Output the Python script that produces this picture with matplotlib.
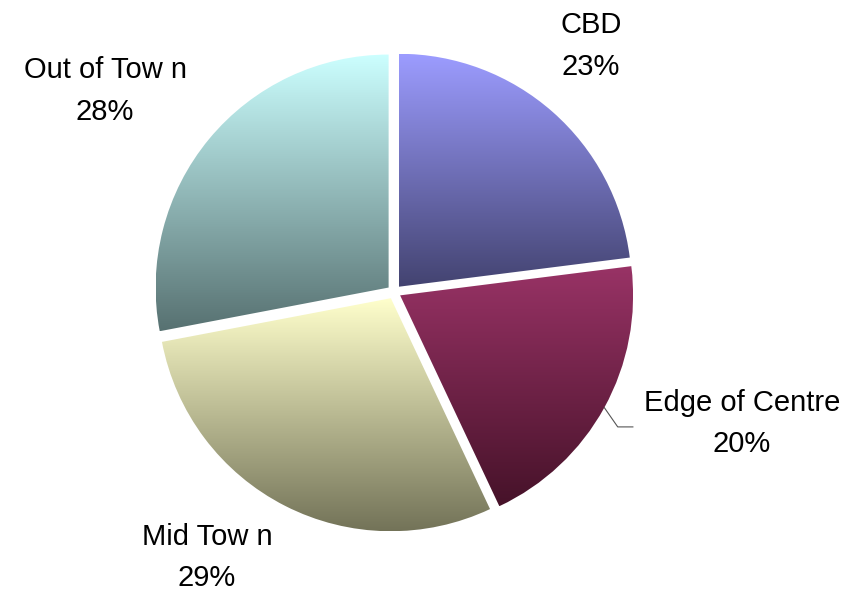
import numpy as np
import matplotlib
matplotlib.use("Agg")
import matplotlib.pyplot as plt
from matplotlib.colors import LinearSegmentedColormap

# data
labels = ["CBD", "Edge of Centre", "Mid Tow n", "Out of Tow n"]
shares = [23, 20, 29, 28]
top_colors = ["#9c9cff", "#993366", "#ffffcc", "#ccffff"]
bottom_colors = ["#434370", "#461229", "#737358", "#577171"]

plt.rcParams['font.family'] = ['Liberation Sans', 'DejaVu Sans']

fig = plt.figure(figsize=(8.54, 5.92), dpi=100)
ax = fig.add_axes([0, 0, 1, 1])

wedges, _ = ax.pie(shares, startangle=90, counterclock=False,
                   explode=[0.03] * len(shares), radius=1.0,
                   wedgeprops=dict(linewidth=0, facecolor="none"))

# vertical gradient inside each wedge
for w, c_top, c_bot in zip(wedges, top_colors, bottom_colors):
    bb = w.get_path().get_extents(w.get_patch_transform())
    cmap = LinearSegmentedColormap.from_list("g", [c_bot, c_top])
    grad = np.linspace(0, 1, 256).reshape(-1, 1)
    im = ax.imshow(grad, cmap=cmap, origin="lower", aspect="auto",
                   extent=[bb.x0, bb.x1, bb.y0, bb.y1], zorder=1)
    im.set_clip_path(w)

# labels
label_pos = [(0.845, 1.055), (1.494, -0.565), (-0.803, -1.14), (-1.24, 0.862)]
for lab, s, (x, y) in zip(labels, shares, label_pos):
    ax.text(x, y, "%s\n%d%%" % (lab, s), ha="center", va="center",
            fontsize=21, linespacing=1.62, color="black")

# leader line for Edge of Centre
start = 90 - 360 * shares[0] / 100
mid = np.deg2rad(start - 360 * shares[1] / 200)
p0 = (1.03 * np.cos(mid), 1.03 * np.sin(mid))
p1 = (1.13 * np.cos(mid) - 0.03, -0.579)
ax.plot([p0[0], p1[0], p1[0] + 0.065], [p0[1], p1[1], p1[1]],
        color="#555555", lw=0.8, zorder=3)

cx, cy, r = 394, 292, 233
ax.set_xlim(-cx / r, (854 - cx) / r)
ax.set_ylim(-(592 - cy) / r, cy / r)
ax.set_aspect("auto")
ax.axis("off")

fig.savefig("out.png", dpi=100, facecolor="white")
